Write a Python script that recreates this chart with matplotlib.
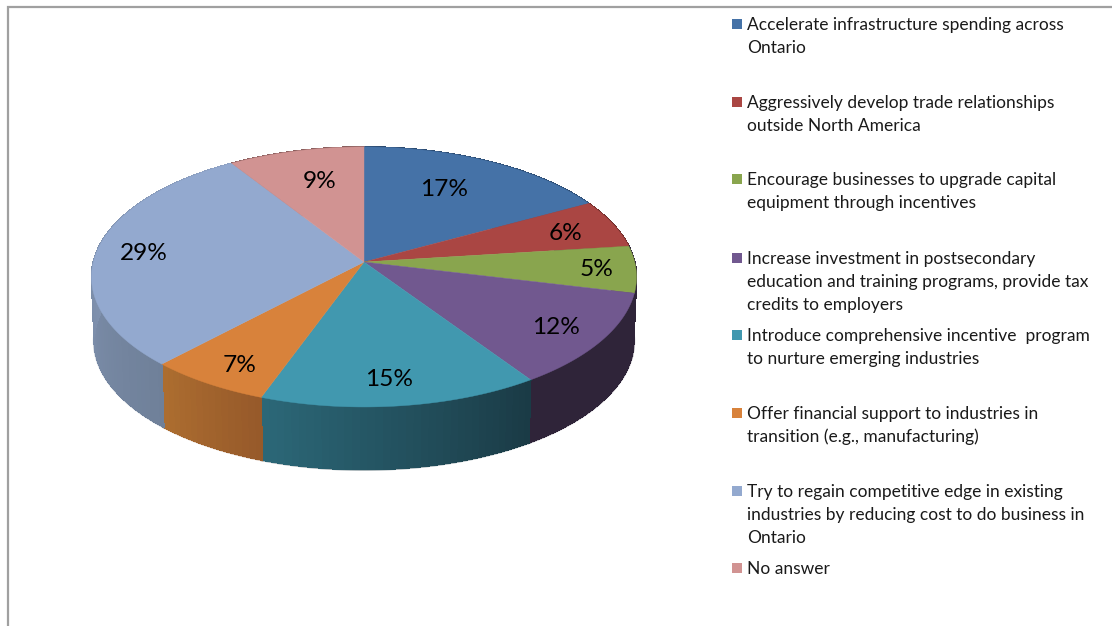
import numpy as np
import matplotlib
matplotlib.use('Agg')
import matplotlib.pyplot as plt
from matplotlib.patches import Rectangle

plt.rcParams['font.family'] = ['Lato', 'DejaVu Sans']

# slice sizes as measured off the rim, the printed labels are rounded
shares = [17, 6, 5.8, 11.8, 14.9, 6.5, 29, 9]
percent_labels = ['17%', '6%', '5%', '12%', '15%', '7%', '29%', '9%']
legend_labels = [
    ['Accelerate infrastructure spending across', 'Ontario'],
    ['Aggressively develop trade relationships', 'outside North America'],
    ['Encourage businesses to upgrade capital', 'equipment through incentives'],
    ['Increase investment in postsecondary', 'education and training programs, provide tax', 'credits to employers'],
    ['Introduce comprehensive incentive  program', 'to nurture emerging industries'],
    ['Offer financial support to industries in', 'transition (e.g., manufacturing)'],
    ['Try to regain competitive edge in existing', 'industries by reducing cost to do business in', 'Ontario'],
    ['No answer'],
]

top_colors = ['#4572a7', '#aa4643', '#89a54e', '#71588f', '#4198af', '#d8823b', '#93a9cf', '#d19392']
# wall shade at the start and end of each slice
wall_colors = [('#2b4a70', '#2b4a70'), ('#6e2d2b', '#6e2d2b'), ('#2f2439', '#2f2439'),
               ('#2f2439', '#2f2439'), ('#1a3a45', '#2c6878'), ('#96592a', '#ad6e30'),
               ('#6f8099', '#8ea1c2'), ('#8a5f5e', '#8a5f5e')]

# pixel layout of the tilted pie
cx, cy = 364, 262
rx, ry, persp = 270.7, 128.3, 0.115
depth, shrink = 64, 0.99
label_xy = [(444, 190), (566, 234), (597, 270), (556, 327), (389, 380), (240, 365), (144, 253), (320, 181)]
legend_y = [25, 103, 180, 259, 336, 414, 492, 569]
line_h = 23


def project(theta, r=1.0, drop=0, scale=1.0):
    # clockwise from 12 o'clock, circle pushed through a simple perspective
    u = r * np.sin(theta)
    v = r * np.cos(theta)
    w = 1 + persp * v
    return cx + scale * rx * u / w, cy + drop - scale * ry * v / w


fig = plt.figure(figsize=(11.12, 6.26), dpi=100)
ax = fig.add_axes([0, 0, 1, 1])
ax.set_xlim(0, 1112)
ax.set_ylim(626, 0)
ax.axis('off')

# chart frame, only top and left are in the crop
ax.plot([7.5, 7.5, 1112], [626, 6.5, 6.5], color='#a0a0a0', lw=1.6, solid_joinstyle='miter')

edges = np.cumsum([0] + shares) / sum(shares) * 2 * np.pi

# soft fringe on the lower rim, under the walls
for i in range(len(shares)):
    t = np.linspace(edges[i], edges[i + 1], 60)
    xb, yb = project(t, drop=depth, scale=shrink)
    ax.plot(xb, yb, color=wall_colors[i][0], alpha=0.4, lw=2, zorder=0.5)

# walls first, the top covers whatever is behind
for i in range(len(shares)):
    a0, a1 = edges[i], edges[i + 1]
    c0 = np.array(matplotlib.colors.to_rgb(wall_colors[i][0]))
    c1 = np.array(matplotlib.colors.to_rgb(wall_colors[i][1]))
    steps = max(int((a1 - a0) * 40), 2)
    ts = np.linspace(a0, a1, steps + 1)
    for j in range(steps):
        t = np.linspace(ts[j], ts[j + 1], 4)
        xt, yt = project(t)
        xb, yb = project(t[::-1], drop=depth, scale=shrink)
        col = c0 + (c1 - c0) * (j + 0.5) / steps
        ax.fill(np.r_[xt, xb], np.r_[yt, yb], color=col, lw=0.5, antialiased=False, zorder=1)

for i in range(len(shares)):
    t = np.linspace(edges[i], edges[i + 1], 120)
    x, y = project(t)
    ax.fill(np.r_[cx, x], np.r_[cy, y], color=top_colors[i], lw=0.3, zorder=2)

for s, (lx, ly) in zip(percent_labels, label_xy):
    ax.text(lx, ly, s, fontsize=17.6, color='black', ha='center', va='center', zorder=3)

for i, lines in enumerate(legend_labels):
    y0 = legend_y[i]
    ax.add_patch(Rectangle((732, y0 - 6), 10, 10, color=top_colors[i], lw=0))
    for k, line in enumerate(lines):
        ax.text(747, y0 + k * line_h, line, fontsize=12.5, color='#1a1a1a', ha='left', va='center')

fig.savefig('out.png', dpi=100)
